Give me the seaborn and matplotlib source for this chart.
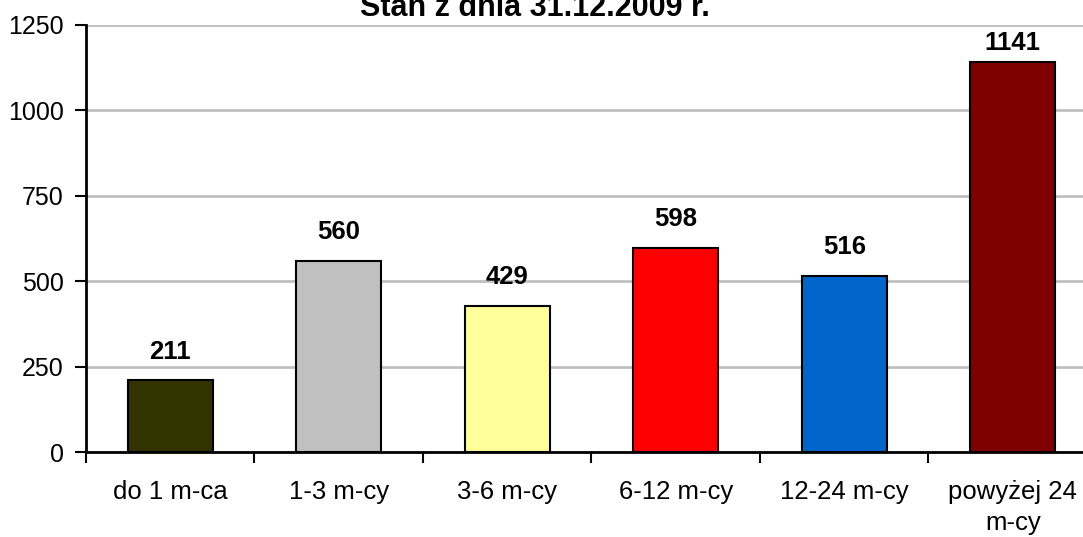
import pandas as pd
import matplotlib
matplotlib.use("Agg")
import matplotlib.pyplot as plt
import seaborn as sns

categories = ["do 1 m-ca", "1-3 m-cy", "3-6 m-cy", "6-12 m-cy", "12-24 m-cy", "powyżej 24\nm-cy"]
values = [211, 560, 429, 598, 516, 1141]
colors = ["#333300", "#C0C0C0", "#FFFF99", "#FF0000", "#0066CC", "#800000"]
y_ticks = [0, 250, 500, 750, 1000, 1250]
title = "Stan z dnia 31.12.2009 r."

sns.set_style("white")
plt.rcParams["font.family"] = ["Liberation Sans", "DejaVu Sans"]
plt.rcParams["text.color"] = "black"
plt.rcParams["xtick.color"] = "black"
plt.rcParams["ytick.color"] = "black"

df = pd.DataFrame({"okres": categories, "liczba": values})

fig = plt.figure(figsize=(10.83, 5.37), dpi=100)
# plot area runs a little past the right edge of the picture, as in the original
ax = fig.add_axes([0.0794, 0.1574, 0.9335, 0.7961])

sns.barplot(data=df, x="okres", y="liczba", hue="okres", palette=colors,
            legend=False, width=0.505, saturation=1, edgecolor="black",
            linewidth=1.5, ax=ax, zorder=3)

ax.set_ylim(0, 1250)
ax.set_xlim(-0.5, len(categories) - 0.5)
ax.set_yticks(y_ticks)
ax.yaxis.grid(True, color="#C0C0C0", linewidth=2, zorder=0)
ax.set_xlabel("")
ax.set_ylabel("")

# ticks on category boundaries, labels centred on bars
ax.set_xticks([i - 0.5 for i in range(len(categories) + 1)])
ax.set_xticklabels([])
ax.set_xticks(range(len(categories)), minor=True)
ax.set_xticklabels(categories, minor=True, fontsize=18.5, linespacing=1.35)
ax.tick_params(axis="x", which="major", direction="out", length=8, width=1.5, bottom=True)
ax.tick_params(axis="x", which="minor", length=0, pad=20)
ax.tick_params(axis="y", direction="out", length=8, width=1.5, left=True, labelsize=18, pad=8)

for s in ["top", "right"]:
    ax.spines[s].set_visible(False)
for s in ["left", "bottom"]:
    ax.spines[s].set_linewidth(2)
    ax.spines[s].set_color("black")

for i, v in enumerate(values):
    # labels near the top of the plot area are pulled closer to the bar
    off = 12 if v < 0.85 * y_ticks[-1] else 5
    ax.annotate(str(v), (i, v), xytext=(0, off), textcoords="offset points",
                ha="center", va="bottom", fontsize=18.5, fontweight="bold")

fig.text(0.494, 1 - 16 / 537, title, ha="center", va="baseline", fontsize=22, fontweight="bold")

fig.savefig("out.png", dpi=100)
